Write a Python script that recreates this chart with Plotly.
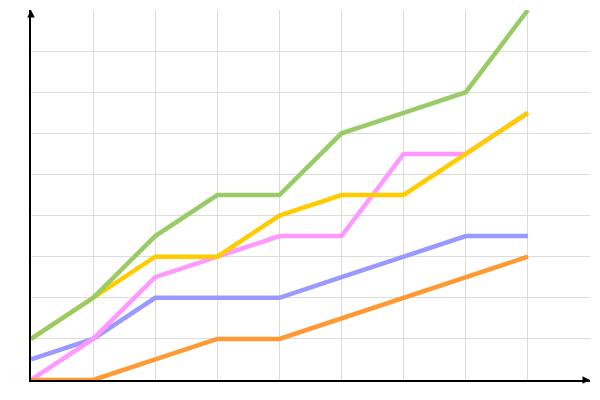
import plotly.graph_objects as go

x_idx = [0, 1, 2, 3, 4, 5, 6, 7, 8]
blue = [0.5, 1, 2, 2, 2, 2.5, 3, 3.5, 3.5]
pink = [0, 1, 2.5, 3, 3.5, 3.5, 5.5, 5.5, 6.5]
yellow = [1, 2, 3, 3, 4, 4.5, 4.5, 5.5, 6.5]
green = [1, 2, 3.5, 4.5, 4.5, 6, 6.5, 7, 9]
orange = [0, 0, 0.5, 1, 1, 1.5, 2, 2.5, 3]
grid_vals = [0, 1, 2, 3, 4, 5, 6, 7, 8]

series = [
    ("blue", blue, "#9999FF"),
    ("pink", pink, "#FF99FF"),
    ("yellow", yellow, "#FFCC00"),
    ("green", green, "#99CC66"),
    ("orange", orange, "#FF9933"),
]

fig = go.Figure()
for name, vals, col in series:
    fig.add_trace(go.Scatter(x=x_idx, y=vals, mode="lines", name=name,
                             line=dict(color=col, width=4.5), cliponaxis=False))

fig.update_layout(
    width=592, height=392,
    margin=dict(l=23, r=10, t=2, b=20),
    paper_bgcolor="white", plot_bgcolor="white",
    showlegend=False,
    xaxis=dict(range=[0, 9], tickvals=grid_vals, showticklabels=False, ticks="",
               showgrid=True, gridcolor="#dcdcdc", gridwidth=1, zeroline=False,
               showline=True, linecolor="black", linewidth=1.5),
    yaxis=dict(range=[0, 9], tickvals=grid_vals, showticklabels=False, ticks="",
               showgrid=True, gridcolor="#dcdcdc", gridwidth=1, zeroline=False,
               showline=True, linecolor="black", linewidth=1.5),
    annotations=[
        dict(x=1, y=0, xref="paper", yref="paper", ax=-6, ay=0,
             showarrow=True, arrowhead=2, arrowsize=1, arrowwidth=1.5, arrowcolor="black", text=""),
        dict(x=0, y=1, xref="paper", yref="paper", ax=0, ay=6,
             showarrow=True, arrowhead=2, arrowsize=1, arrowwidth=1.5, arrowcolor="black", text=""),
    ],
)

fig.write_html("out.html")
